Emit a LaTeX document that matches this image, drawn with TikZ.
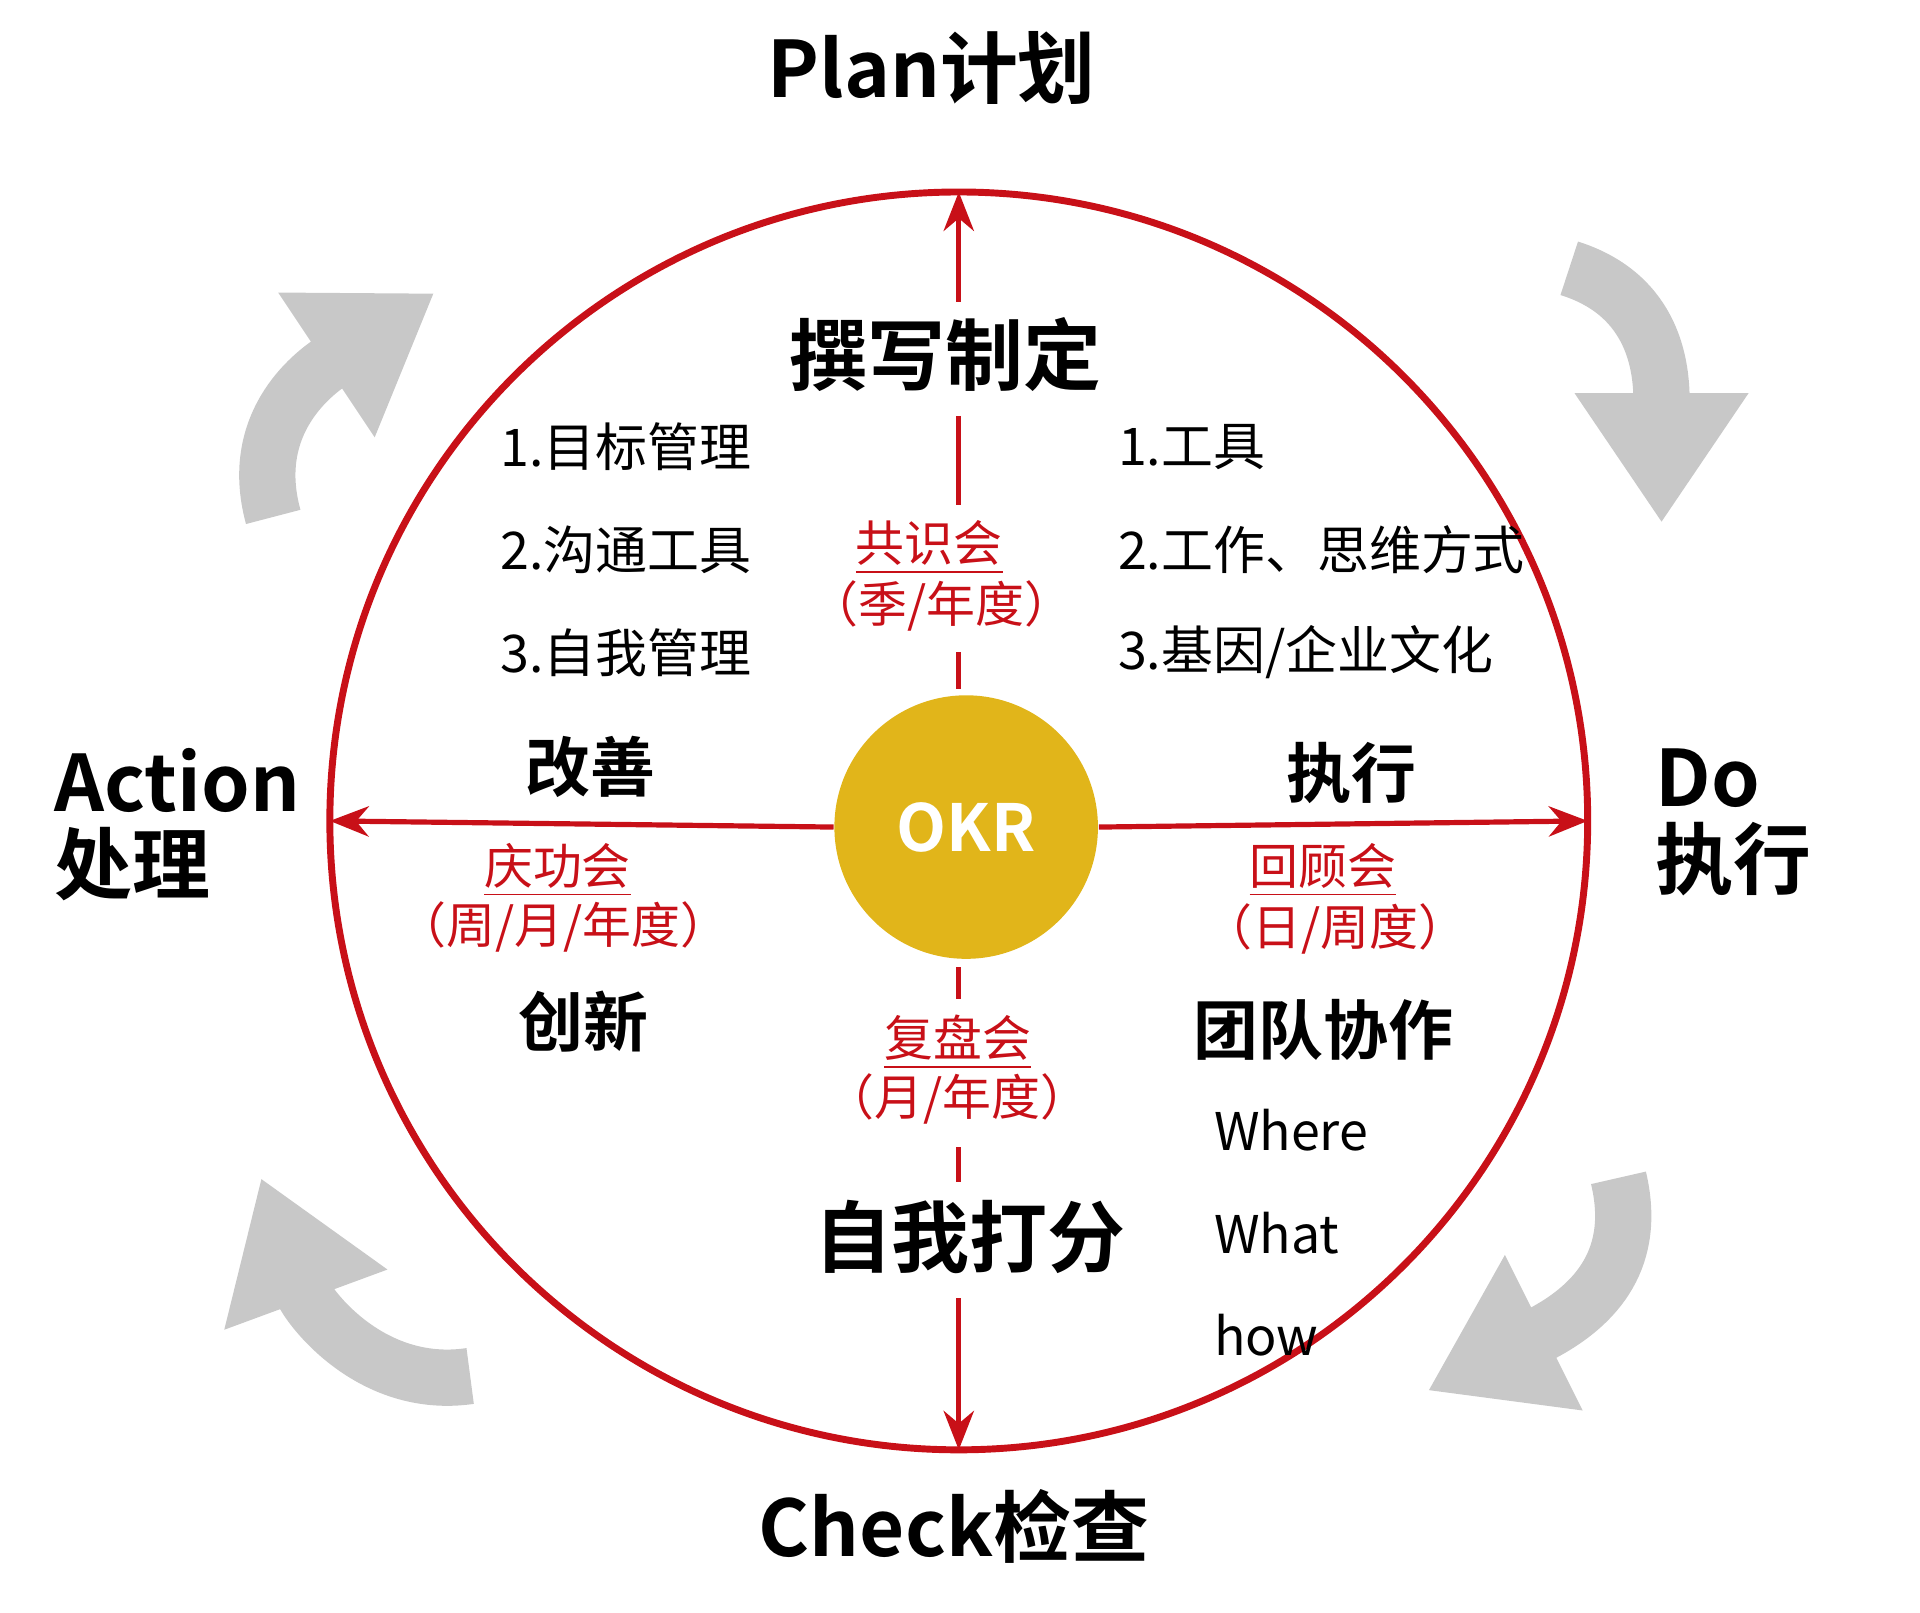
\documentclass[tikz,border=0pt]{standalone}
\usepackage{fontspec}
\setmainfont{Noto Sans CJK SC}
\newfontfamily\cjkb{Noto Sans CJK SC Bold}
\usetikzlibrary{arrows.meta}
\definecolor{okrred}{RGB}{200,16,24}
\definecolor{okrgold}{RGB}{225,181,26}
\definecolor{okrgray}{RGB}{200,200,200}
\tikzset{
  big/.style={font=\cjkb\fontsize{18}{21}\selectfont},
  mid/.style={font=\cjkb\fontsize{15}{18}\selectfont},
  item/.style={font=\fontsize{12}{14}\selectfont,anchor=west},
  redt/.style={font=\fontsize{11.3}{13}\selectfont,text=okrred},
  ax/.style={okrred,line width=1.2pt},
  garrow/.style={okrgray,line width=13pt,-{Triangle[width=38pt,length=30pt]}}
}
\begin{document}
\begin{tikzpicture}[x=0.01cm,y=-0.01cm]
\useasboundingbox (0,0) rectangle (1560,1310);
% gray arrows
\draw[garrow] (1275,218) .. controls (1345,240) and (1350,300) .. (1350,425);
\draw[garrow] (222,420) .. controls (200,340) and (260,300) .. (353,238);
\draw[garrow] (382,1118) .. controls (300,1130) and (250,1060) .. (212,957);
\draw[garrow] (1315,957) .. controls (1330,1020) and (1300,1060) .. (1160,1130);
% circle
\draw[okrred,line width=1.6pt] (779,667) circle (511);
\coordinate (T) at (779,156); \coordinate (B) at (779,1178);
\coordinate (L) at (268,667); \coordinate (R) at (1290,667);
\node[circle,fill=okrgold,minimum size=2.14cm,inner sep=0] (okr) at (785,672) {};
\node[font=\cjkb\fontsize{15}{17}\selectfont,text=white] at (okr) {OKR};
% axes
\draw[ax,-{Stealth[length=9pt,width=7pt]}] (779,245) -- (T);
\draw[ax] (779,338) -- (779,410);
\draw[ax] (779,530) -- (779,560);
\draw[ax] (779,786) -- (779,812);
\draw[ax] (779,932) -- (779,960);
\draw[ax,-{Stealth[length=9pt,width=7pt]}] (779,1055) -- (B);
\draw[ax,-{Stealth[length=9pt,width=7pt]}] (okr.west) -- (L);
\draw[ax,-{Stealth[length=9pt,width=7pt]}] (okr.east) -- (R);
% labels
\node[big] (plan) at (757,55) {Plan计划};
\node[big] (check) at (775,1240) {Check检查};
\node[big,anchor=west,align=left] (act) at (32,670) {Action\\[-2pt]处理};
\node[big,anchor=west,align=left] (do) at (1333,668) {Do\\[-2pt]执行};
\node[big] (zx) at (768,288) {撰写制定};
\node[big] (zw) at (788,1005) {自我打分};
\node[mid] at (480,623) {改善};
\node[mid] at (1098,628) {执行};
\node[mid] at (474,830) {创新};
\node[mid] at (1075,837) {团队协作};
\node[item] at (394,363) {1.目标管理};
\node[item] at (394,447) {2.沟通工具};
\node[item] at (394,530) {3.自我管理};
\node[item] at (896,363) {1.工具};
\node[item] at (896,447) {2.工作、思维方式};
\node[item] at (896,530) {3.基因/企业文化};
\node[item] at (974,918) {Where};
\node[item] at (974,1002) {What};
\node[item] at (974,1085) {how};
\node[redt] at (755,445) {\underline{共识会}};
\node[redt] at (765,492) {（季/年度）};
\node[redt] at (453,707) {\underline{庆功会}};
\node[redt] at (458,753) {（周/月/年度）};
\node[redt] at (1075,707) {\underline{回顾会}};
\node[redt] at (1085,755) {（日/周度）};
\node[redt] at (778,847) {\underline{复盘会}};
\node[redt] at (778,893) {（月/年度）};
\end{tikzpicture}
\end{document}
